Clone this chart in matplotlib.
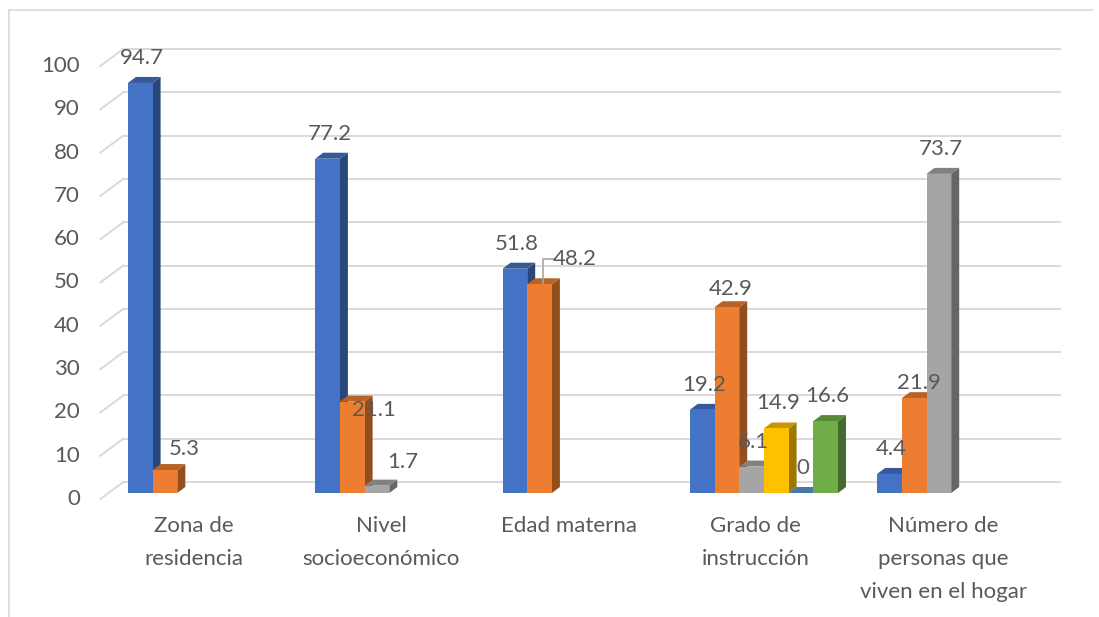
import matplotlib.pyplot as plt
from matplotlib.patches import Polygon, Rectangle
from matplotlib.lines import Line2D
import matplotlib.transforms as mtransforms
import numpy as np

categories = ['Zona de\nresidencia', 'Nivel\nsocioeconómico', 'Edad materna',
              'Grado de\ninstrucción', 'Número de\npersonas que\nviven en el hogar']

# one list per series, None = no bar in that category
serie1 = [94.7, 77.2, 51.8, 19.2, 4.4]
serie2 = [5.3, 21.1, 48.2, 42.9, 21.9]
serie3 = [None, 1.7, None, 6.1, 73.7]
serie4 = [None, None, None, 14.9, None]
serie5 = [None, None, None, 0, None]
serie6 = [None, None, None, 16.6, None]
series = [serie1, serie2, serie3, serie4, serie5, serie6]

yticks = list(range(0, 101, 10))

COLORS = ['#4472C4', '#ED7D31', '#A5A5A5', '#FFC000', '#5B9BD5', '#70AD47']
TEXT = '#595959'
GRID = '#D9D9D9'
FONT = 'Lato'
FS = 16

# label nudges in pixels (dx, dy up), keyed by (category, series)
LABEL_NUDGE = {(0, 1): (19, -4), (1, 1): (22, -33), (1, 2): (26, -1),
               (2, 1): (35, 0), (3, 1): (4, -7), (4, 1): (5, -10)}

W, H = 1099, 617
fig = plt.figure(figsize=(W / 100, H / 100), dpi=100)

# front plane of bars: x=0 -> px 202, 1 category = 187.3 px ; y=0 -> px 493, 1 unit = 4.33 px
PXX, PXY = 187.3, 4.33
x0_px, y0_px = 202.0, 493.0
xlim = (-0.6, 4.6)
ylim = (-5, 105)
left = (x0_px + xlim[0] * PXX) / W
right = (x0_px + xlim[1] * PXX) / W
bottom = (H - (y0_px - ylim[0] * PXY)) / H
top = (H - (y0_px - ylim[1] * PXY)) / H
ax = fig.add_axes([left, bottom, right - left, top - bottom])
ax.set_xlim(*xlim)
ax.set_ylim(*ylim)
ax.axis('off')

def px(dx, dy):
    return dx / PXX, dy / PXY

bw = 24.7 / PXX
bdx, bdy = px(8, 6)        # bar depth
fdx, fdy = px(-8, -6)      # wall front relative to bar plane
kdx, kdy = px(15, 11)      # wall back relative to bar plane
xw0, xw1 = -0.5, 4.5

# walls / gridlines
for v in yticks:
    ax.add_line(Line2D([xw0 + fdx, xw0 + kdx], [v + fdy, v + kdy], color=GRID, lw=1.4,
                       clip_on=False, zorder=1))
    ax.add_line(Line2D([xw0 + kdx, xw1 + kdx], [v + kdy, v + kdy], color=GRID, lw=1.4,
                       clip_on=False, zorder=1))
    ax.text(-0.652, v + fdy, str(v), ha='right', va='center', fontsize=FS,
            color=TEXT, family=FONT)

def shade(c, f):
    rgb = np.array(plt.matplotlib.colors.to_rgb(c))
    return tuple(rgb * f)

for s, vals in enumerate(series):
    col = COLORS[s]
    for i, v in enumerate(vals):
        if v is None:
            continue
        xl = i - 3 * bw + s * bw
        xr = xl + bw
        z = 3 + s * 0.01
        ax.add_patch(Polygon([(xr, 0), (xr + bdx, bdy), (xr + bdx, v + bdy), (xr, v)],
                             closed=True, fc=shade(col, 0.62), ec='none', zorder=z))
        ax.add_patch(Polygon([(xl, v), (xl + bdx, v + bdy), (xr + bdx, v + bdy), (xr, v)],
                             closed=True, fc=shade(col, 0.78), ec='none', zorder=z))
        if v > 0:
            ax.add_patch(Rectangle((xl, 0), bw, v, fc=col, ec='none', zorder=z))
        ndx, ndy = LABEL_NUDGE.get((i, s), (2, 0))
        lx = (xl + xr) / 2 + ndx / PXX
        ly = v + (25 + ndy) / PXY
        ax.text(lx, ly, f'{v:g}', ha='center', va='center', fontsize=FS,
                color=TEXT, family=FONT, zorder=10)
        if (i, s) == (2, 1):
            # leader line for 48.2
            xm = (xl + xr) / 2 + 3 / PXX
            ax.add_line(Line2D([xm, xm, xm + 11 / PXX], [v + 1 / PXY, v + 25 / PXY, v + 25 / PXY],
                               color='#A6A6A6', lw=1.2, zorder=9))

trans = mtransforms.blended_transform_factory(ax.transData, fig.transFigure)
for i, lab in enumerate(categories):
    ax.text(i + fdx, (H - 516) / H, lab, transform=trans, ha='center', va='top',
            fontsize=FS, color=TEXT, family=FONT, linespacing=1.8)

# chart border (left and top only visible)
fig.add_artist(Line2D([9 / W, 9 / W], [0, 1 - 10 / H], color=GRID, lw=1.2))
fig.add_artist(Line2D([9 / W, 1092 / W], [1 - 10 / H, 1 - 10 / H], color=GRID, lw=1.2))

fig.savefig('out.png', dpi=100)
